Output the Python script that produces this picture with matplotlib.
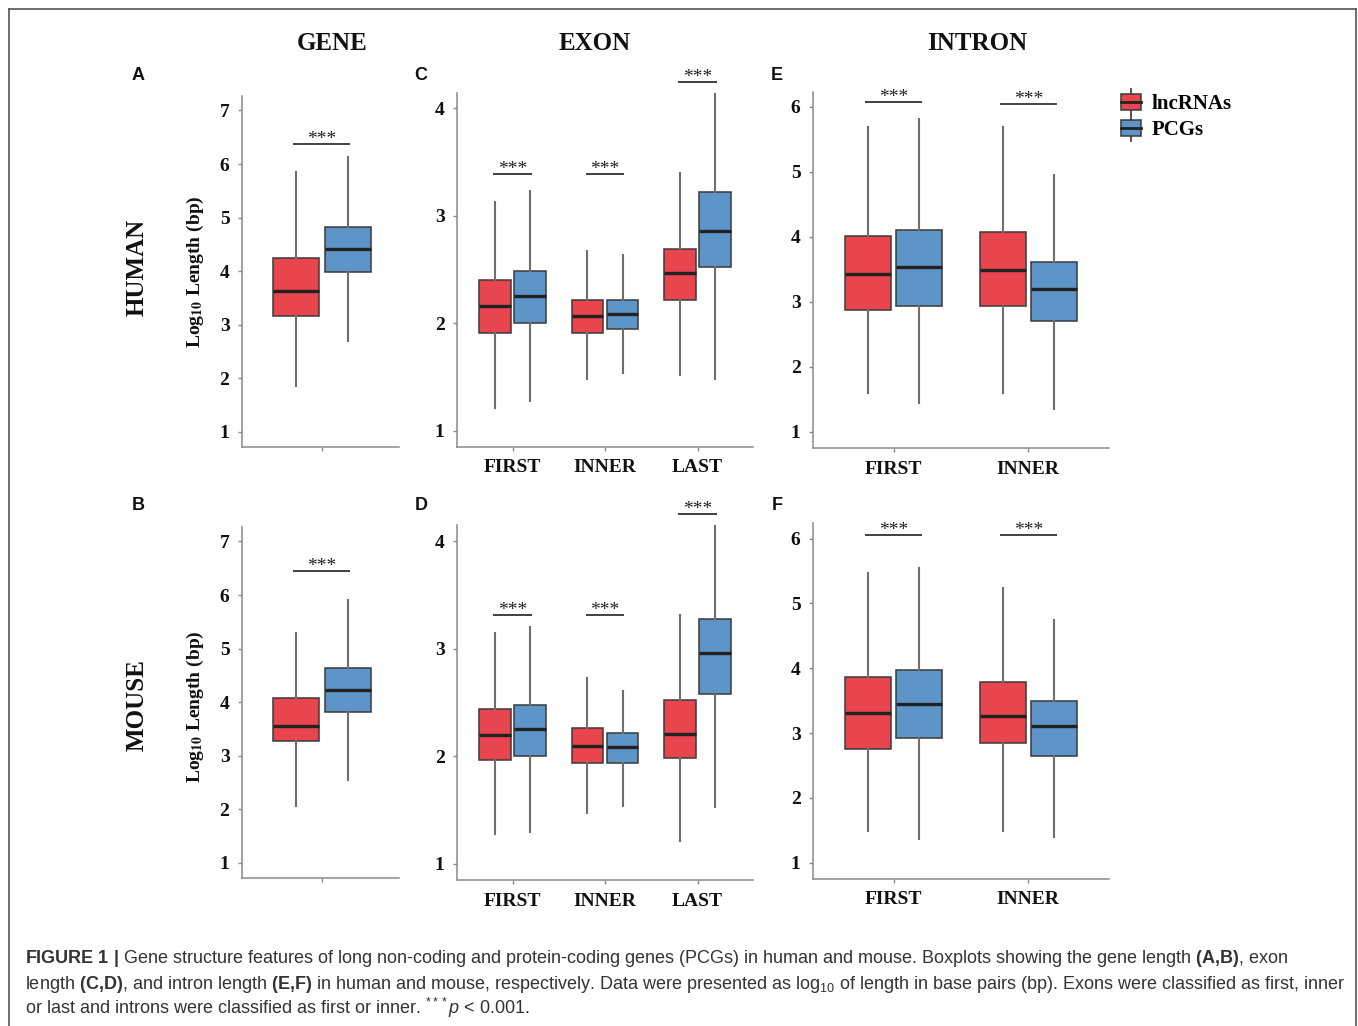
import matplotlib
matplotlib.use("Agg")
import matplotlib.pyplot as plt
from matplotlib.legend_handler import HandlerBase
from matplotlib.patches import Rectangle, Patch
from matplotlib.lines import Line2D

plt.rcParams["font.family"] = "Liberation Serif"
plt.rcParams["mathtext.fontset"] = "custom"
plt.rcParams["mathtext.rm"] = "Liberation Sans"
plt.rcParams["mathtext.bf"] = "Liberation Sans:bold"
plt.rcParams["mathtext.it"] = "Liberation Sans:italic"

# ---------------------------------------------------------------------------
# Data: box stats as [whisker low, Q1, median, Q3, whisker high] (log10 bp)
# ---------------------------------------------------------------------------
exon_cats = ["FIRST", "INNER", "LAST"]
intron_cats = ["FIRST", "INNER"]

human_gene_lnc = [[1.85, 3.16, 3.63, 4.24, 5.85]]
human_gene_pcg = [[2.69, 3.98, 4.42, 4.83, 6.13]]
mouse_gene_lnc = [[2.06, 3.27, 3.55, 4.07, 5.30]]
mouse_gene_pcg = [[2.55, 3.81, 4.23, 4.64, 5.91]]

human_exon_lnc = [[1.21, 1.91, 2.16, 2.40, 3.13],
                  [1.48, 1.91, 2.07, 2.22, 2.67],
                  [1.52, 2.22, 2.47, 2.69, 3.40]]
human_exon_pcg = [[1.28, 2.00, 2.25, 2.49, 3.23],
                  [1.54, 1.95, 2.09, 2.22, 2.63],
                  [1.48, 2.52, 2.86, 3.22, 4.14]]
mouse_exon_lnc = [[1.28, 1.97, 2.20, 2.44, 3.15],
                  [1.47, 1.94, 2.10, 2.26, 2.73],
                  [1.21, 1.98, 2.21, 2.52, 3.31]]
mouse_exon_pcg = [[1.30, 2.00, 2.25, 2.48, 3.20],
                  [1.54, 1.94, 2.09, 2.22, 2.61],
                  [1.53, 2.58, 2.96, 3.28, 4.15]]

human_intron_lnc = [[1.60, 2.88, 3.43, 4.01, 5.69],
                    [1.60, 2.94, 3.49, 4.07, 5.69]]
human_intron_pcg = [[1.44, 2.94, 3.54, 4.10, 5.82],
                    [1.35, 2.70, 3.19, 3.61, 4.96]]
mouse_intron_lnc = [[1.49, 2.76, 3.31, 3.86, 5.47],
                    [1.49, 2.84, 3.26, 3.79, 5.24]]
mouse_intron_pcg = [[1.37, 2.93, 3.45, 3.98, 5.55],
                    [1.39, 2.65, 3.11, 3.49, 4.74]]

# height of the significance bar ("***", p < 0.001) per category
sig_A = [6.38]
sig_B = [6.45]
sig_C = [3.39, 3.39, 4.24]
sig_D = [3.31, 3.31, 4.25]
sig_E = [6.07, 6.05]
sig_F = [6.05, 6.05]

# ---------------------------------------------------------------------------
RED = "#E8454F"
BLUE = "#5E95C9"
EDGE = "#3a3a3a"
GREY = "#8a8a8a"
W, H = 1358, 1026
OFF = 0.19
BW = 0.34


def _stats(rows):
    return [dict(whislo=r[0], q1=r[1], med=r[2], q3=r[3], whishi=r[4])
            for r in rows]


def _ax(fig, left, right, top, bottom):
    return fig.add_axes([left / W, 1 - bottom / H, (right - left) / W,
                         (bottom - top) / H])


def draw_panel(ax, lnc, pcg, sig, cats, ylim, yticks, xlim):
    n = len(lnc)
    xs = list(range(1, n + 1))
    for rows, off, col in ((lnc, -OFF, RED), (pcg, OFF, BLUE)):
        ax.bxp(_stats(rows), positions=[x + off for x in xs], widths=BW,
               patch_artist=True, showfliers=False, showcaps=False,
               boxprops=dict(facecolor=col, edgecolor=EDGE, linewidth=1.1),
               medianprops=dict(color="#222222", linewidth=2.4),
               whiskerprops=dict(color="#6e6e6e", linewidth=1.5),
               manage_ticks=False)
    for x, y in zip(xs, sig):
        ax.plot([x - OFF - 0.02, x + OFF + 0.02], [y, y], color="#333333",
                lw=1.3, solid_capstyle="butt", clip_on=False)
        ax.annotate("***", xy=(x, y), xytext=(0, 0), textcoords="offset points",
                    ha="center", va="baseline", fontsize=14, color="#222222",
                    annotation_clip=False)
    ax.set_xlim(*xlim)
    ax.set_ylim(*ylim)
    ax.set_yticks(yticks)
    ax.set_xticks(xs)
    ax.set_xticklabels(cats if cats else [""] * n)
    for s in ("top", "right"):
        ax.spines[s].set_visible(False)
    for s in ("left", "bottom"):
        ax.spines[s].set_color(GREY)
        ax.spines[s].set_linewidth(1.1)
    ax.tick_params(axis="both", colors=GREY, length=3, width=1.0,
                   labelcolor="#111111", labelsize=14)
    ax.tick_params(axis="y", pad=6)
    ax.tick_params(axis="x", pad=6)
    for lab in ax.get_xticklabels() + ax.get_yticklabels():
        lab.set_fontweight("bold")


fig = plt.figure(figsize=(W / 100, H / 100), dpi=100)

axA = _ax(fig, 242, 399, 96, 447)
axB = _ax(fig, 242, 399, 527, 878)
axC = _ax(fig, 457, 753, 93, 447)
axD = _ax(fig, 457, 753, 525, 880)
axE = _ax(fig, 813, 1109, 92, 448)
axF = _ax(fig, 813, 1109, 523, 879)

gene_ylim = (0.72, 7.27)
draw_panel(axA, human_gene_lnc, human_gene_pcg, sig_A, None, gene_ylim,
           range(1, 8), (0.41, 1.57))
draw_panel(axB, mouse_gene_lnc, mouse_gene_pcg, sig_B, None, gene_ylim,
           range(1, 8), (0.41, 1.57))
draw_panel(axC, human_exon_lnc, human_exon_pcg, sig_C, exon_cats, (0.85, 4.14),
           range(1, 5), (0.4, 3.6))
draw_panel(axD, mouse_exon_lnc, mouse_exon_pcg, sig_D, exon_cats, (0.85, 4.15),
           range(1, 5), (0.4, 3.6))
draw_panel(axE, human_intron_lnc, human_intron_pcg, sig_E, intron_cats,
           (0.75, 6.23), range(1, 7), (0.4, 2.6))
draw_panel(axF, mouse_intron_lnc, mouse_intron_pcg, sig_F, intron_cats,
           (0.75, 6.24), range(1, 7), (0.4, 2.6))

# column titles, row labels, y labels
for txt, x in (("GENE", 332), ("EXON", 595), ("INTRON", 977)):
    fig.text(x / W, 1 - 43 / H, txt, ha="center", va="center",
             fontsize=18, fontweight="bold", color="#111111")
for txt, y in (("HUMAN", 267), ("MOUSE", 705)):
    fig.text(137 / W, 1 - y / H, txt, ha="center", va="center", rotation=90,
             fontsize=18, fontweight="bold", color="#111111")
for y in (272, 707):
    fig.text(195 / W, 1 - y / H, r"Log$_{\mathbf{10}}$ Length (bp)",
             ha="center", va="center", rotation=90, fontsize=14,
             fontweight="bold", color="#111111", math_fontfamily="stix")

# panel letters
for txt, x, y in (("A", 138, 76), ("B", 138, 505), ("C", 421, 76),
                  ("D", 421, 505), ("E", 777, 76), ("F", 777, 505)):
    fig.text(x / W, 1 - y / H, txt, ha="center", va="center", fontsize=13,
             fontweight="bold", family="Liberation Sans", color="#111111")


class BoxHandler(HandlerBase):
    def create_artists(self, legend, orig_handle, xdescent, ydescent,
                       width, height, fontsize, trans):
        x0, y0 = -xdescent, -ydescent
        fc = orig_handle.get_facecolor()
        whisk = Line2D([x0 + width / 2] * 2, [y0 - 0.3 * height, y0 + 1.3 * height],
                       color="#333333", lw=1.2, transform=trans)
        box = Rectangle((x0, y0), width, height, facecolor=fc,
                        edgecolor=EDGE, lw=1.1, transform=trans)
        med = Line2D([x0, x0 + width], [y0 + height / 2] * 2, color="#222222",
                     lw=2.0, transform=trans)
        return [whisk, box, med]


handles = [Patch(facecolor=RED), Patch(facecolor=BLUE)]
fig.legend(handles, ["lncRNAs", "PCGs"], loc="upper left",
           bbox_to_anchor=(1102 / W, 1 - 75 / H), frameon=False,
           handler_map={Patch: BoxHandler()}, handlelength=0.95,
           handleheight=0.8, handletextpad=0.55, labelspacing=0.3,
           prop=dict(family="Liberation Serif", weight="bold", size=15))

# caption
cap_kw = dict(fontsize=13.0, family="Liberation Sans", color="#333333",
              ha="left", va="baseline")
cap_lines = [
    r"$\mathbf{FIGURE\ 1\ |}$ Gene structure features of long non-coding and "
    r"protein-coding genes (PCGs) in human and mouse. Boxplots showing the "
    r"gene length $\mathbf{(A{,}B)}$, exon",
    r"length $\mathbf{(C{,}D)}$, and intron length $\mathbf{(E{,}F)}$ in human "
    r"and mouse, respectively. Data were presented as log$_{10}$ of length in "
    r"base pairs (bp). Exons were classified as first, inner",
    r"or last and introns were classified as first or inner. "
    r"$^{***}p$ < 0.001.",
]
for txt, y in zip(cap_lines, (963, 989, 1014)):
    fig.text(25 / W, 1 - y / H, txt, **cap_kw)

# frame around the figure (open at the bottom)
fx0, fx1, fy = 8.5 / W, 1355.5 / W, 1 - 8.5 / H
for xs, ys in (([fx0, fx0], [0, fy]), ([fx0, fx1], [fy, fy]),
               ([fx1, fx1], [fy, 0])):
    fig.add_artist(Line2D(xs, ys, color="#555555", lw=1.2,
                          transform=fig.transFigure))

fig.savefig("out.png", dpi=100)
